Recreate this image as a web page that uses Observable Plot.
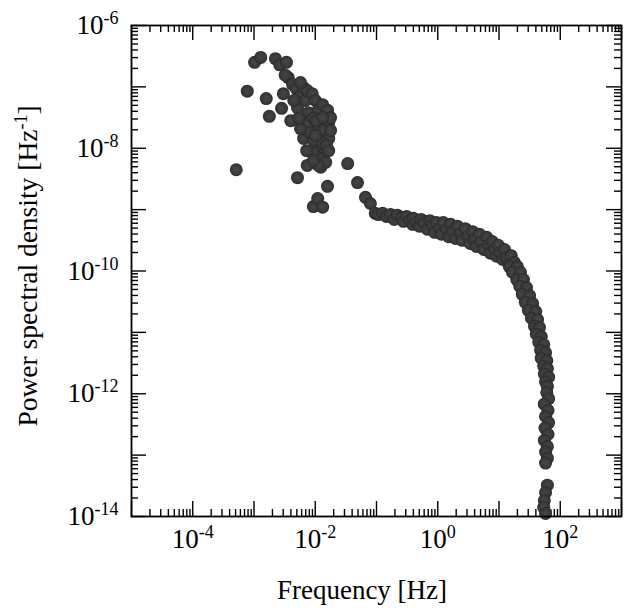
<!DOCTYPE html>
<html>
<head>
<meta charset="utf-8">
<script src="https://cdn.jsdelivr.net/npm/d3@7"></script>
<script src="https://cdn.jsdelivr.net/npm/@observablehq/plot@0.6"></script>
<style>
  html, body { margin: 0; padding: 0; background: #fff; }
</style>
</head>
<body>
<div id="chart"></div>
<script>
// ---- Data, stored as log10 exponents ----
// Low-frequency scattered estimates: log10(frequency / Hz) and log10(PSD / Hz^-1)
const scatterFreqExp = [
  -3.29,-3.11,-2.99,-2.89,-2.80,-2.75,-2.65,-2.58,-2.47,-2.55,
  -2.52,-2.44,-2.40,-2.37,-2.31,-2.29,-2.24,-2.19,-2.16,-2.13,
  -2.11,-2.05,-2.08,-2.00,-1.95,-1.88,-1.80,-1.78,-1.75,-2.13,
  -1.95,-1.87,-2.19,-2.03,-1.78,-1.75,-1.96,-1.83,-1.91,-1.91,
  -2.13,-2.29,-1.80,-2.03,-1.96,-1.88,-1.47,-1.31,-2.03,-1.88,
  -2.08,-1.83,-1.18,-1.10,-1.02,
  -2.00,-1.82,-2.04,-1.78,-2.14,-2.24,-2.35,-2.27,-1.98,-1.88,
  -1.95,-2.03,-2.49,-2.24
];
const scatterPsdExp = [
  -8.35,-7.07,-6.60,-6.52,-7.19,-7.48,-6.54,-6.64,-6.60,-7.35,
  -7.11,-6.85,-7.55,-6.96,-7.03,-7.34,-7.14,-7.01,-7.22,-7.06,
  -7.42,-7.11,-7.55,-7.22,-7.38,-7.29,-7.38,-7.58,-7.50,-7.60,
  -7.66,-7.71,-7.84,-7.87,-7.84,-7.71,-8.04,-8.04,-8.17,-8.31,
  -8.28,-8.48,-8.62,-8.95,-8.82,-8.96,-8.25,-8.56,-7.51,-7.91,
  -7.74,-8.23,-8.80,-8.90,-9.06,
  -7.79,-7.95,-8.07,-8.04,-8.04,-7.68,-7.22,-7.51,-7.55,-7.50,
  -8.28,-8.20,-6.81,-6.93
];
// Plateau and roll-off: log10(frequency / Hz) and log10(PSD / Hz^-1)
const curveFreqExp = [
  -0.97,-0.90,-0.84,-0.77,-0.71,-0.66,-0.59,-0.56,-0.51,-0.46,-0.41,
  -0.40,-0.35,-0.30,-0.27,-0.22,-0.17,-0.13,-0.09,-0.05,-0.02,0.03,0.06,0.09,0.14,0.18,0.21,0.24,0.29,
  0.32,0.37,0.40,0.45,0.49,0.53,0.57,0.60,0.63,0.68,0.71,0.75,0.80,0.83,0.86,0.89,0.93,0.96,0.99,1.02,1.06,1.09,1.12,1.16,
  1.20,1.25,1.17,1.30,1.22,1.35,1.29,1.40,1.34,1.45,1.38,1.50,1.43,1.55,1.48,1.60,1.53,1.63,1.58,1.66,1.61,1.69,1.65,1.73,1.68,1.76,1.69,1.78,1.73,1.79,1.74,1.81,1.76,1.79,
  1.78,1.81,1.74,1.80,1.76,1.81,1.75,1.80,1.74,1.79,1.76,1.79,1.76,
  1.79,1.76,1.74,1.73,1.76
];
const curvePsdExp = [
  -9.08,-9.06,-9.11,-9.08,-9.16,-9.09,-9.13,-9.19,-9.11,-9.18,-9.24,
  -9.14,-9.21,-9.27,-9.16,-9.22,-9.32,-9.18,-9.26,-9.37,-9.21,-9.31,-9.40,-9.21,-9.32,-9.44,-9.24,-9.36,-9.47,
  -9.27,-9.39,-9.50,-9.31,-9.44,-9.55,-9.36,-9.49,-9.60,-9.40,-9.53,-9.65,-9.45,-9.58,-9.71,-9.52,-9.65,-9.76,-9.58,-9.70,-9.81,-9.65,-9.78,-9.89,
  -9.75,-9.86,-9.93,-9.93,-10.02,-10.02,-10.14,-10.14,-10.25,-10.27,-10.38,-10.40,-10.51,-10.53,-10.64,-10.66,-10.77,-10.79,-10.90,-10.92,-11.03,-11.07,-11.16,-11.20,-11.29,-11.33,-11.42,-11.46,-11.55,-11.59,-11.68,-11.73,-11.81,-11.88,
  -11.98,-12.08,-12.17,-12.27,-12.37,-12.47,-12.56,-12.66,-12.76,-12.86,-12.95,-13.05,-13.13,
  -13.49,-13.61,-13.74,-13.85,-13.95
];

// Axis ticks
const xDecadeExp = [-5,-4,-3,-2,-1,0,1,2,3];
const yDecadeExp = [-14,-13,-12,-11,-10,-9,-8,-7,-6];
const xLabelExp = [-4,-2,0,2];
const yLabelExp = [-14,-12,-10,-8,-6];
const minorMultipliers = [2,3,4,5,6,7,8,9];

// ---- Build tables ----
const points = [
  ...scatterFreqExp.map((e, i) => ({f: 10 ** e, p: 10 ** scatterPsdExp[i]})),
  ...curveFreqExp.map((e, i) => ({f: 10 ** e, p: 10 ** curvePsdExp[i]}))
];
const xMajor = xDecadeExp.map(e => 10 ** e);
const yMajor = yDecadeExp.map(e => 10 ** e);
const xMinor = xDecadeExp.slice(0, -1).flatMap(e => minorMultipliers.map(k => k * 10 ** e));
const yMinor = yDecadeExp.slice(0, -1).flatMap(e => minorMultipliers.map(k => k * 10 ** e));
const xLabels = xLabelExp.map(e => 10 ** e);
const yLabels = yLabelExp.map(e => 10 ** e);

// ---- Layout ----
const W = 630, H = 611;
const mL = 131, mR = 9, mT = 25, mB = 95;
const fw = W - mL - mR, fh = H - mT - mB;
const majorLen = 15, minorLen = 7;
const tickStyle = {stroke: "#000", strokeWidth: 1.4};
const fmt = d => `10^${Math.round(Math.log10(d))}`;
const FONT = "'Liberation Serif', 'Times New Roman', 'DejaVu Serif', serif";

const chart = Plot.plot({
  width: W,
  height: H,
  marginLeft: mL,
  marginRight: mR,
  marginTop: mT,
  marginBottom: mB,
  style: {fontFamily: FONT, fontSize: "27px", color: "#000", background: "#fff"},
  x: {type: "log", domain: [1e-5, 1e3]},
  y: {type: "log", domain: [1e-14, 1e-6]},
  marks: [
    // inward ticks, bottom & top
    Plot.ruleX(xMajor, {...tickStyle, insetTop: fh - majorLen}),
    Plot.ruleX(xMinor, {...tickStyle, insetTop: fh - minorLen}),
    Plot.ruleX(xMajor, {...tickStyle, insetBottom: fh - majorLen}),
    Plot.ruleX(xMinor, {...tickStyle, insetBottom: fh - minorLen}),
    // inward ticks, left & right
    Plot.ruleY(yMajor, {...tickStyle, insetRight: fw - majorLen}),
    Plot.ruleY(yMinor, {...tickStyle, insetRight: fw - minorLen}),
    Plot.ruleY(yMajor, {...tickStyle, insetLeft: fw - majorLen}),
    Plot.ruleY(yMinor, {...tickStyle, insetLeft: fw - minorLen}),
    // tick labels
    Plot.axisX(xLabels, {anchor: "bottom", tickSize: 0, tickPadding: 12, tickFormat: fmt, label: null}),
    Plot.axisY(yLabels, {anchor: "left", tickSize: 0, tickPadding: 13, tickFormat: fmt, label: null}),
    // data
    Plot.dot(points, {x: "f", y: "p", r: 6.5, fill: "url(#dotShade)"}),
    Plot.frame({stroke: "#000", strokeWidth: 1.8})
  ]
});

document.getElementById("chart").appendChild(chart);

const svg = d3.select(chart);

// subtle shading for the dots (slightly darker rim)
const grad = svg.insert("defs", ":first-child")
  .append("radialGradient").attr("id", "dotShade");
grad.append("stop").attr("offset", "0%").attr("stop-color", "#474747");
grad.append("stop").attr("offset", "75%").attr("stop-color", "#393939");
grad.append("stop").attr("offset", "100%").attr("stop-color", "#282828");

// superscript exponents in tick labels
svg.selectAll('g[aria-label="x-axis tick label"] text, g[aria-label="y-axis tick label"] text').each(function () {
  const [base, exp] = this.textContent.split("^");
  const t = d3.select(this);
  t.text(null);
  t.append("tspan").text(base);
  t.append("tspan").attr("font-size", 18).attr("dy", -10).text(exp);
});

// axis titles
svg.append("text")
  .attr("x", 362).attr("y", 599)
  .attr("text-anchor", "middle")
  .attr("font-size", 27)
  .attr("fill", "#000")
  .text("Frequency [Hz]");

const yt = svg.append("text")
  .attr("transform", "translate(37,266) rotate(-90)")
  .attr("text-anchor", "middle")
  .attr("font-size", 27.5)
  .attr("fill", "#000");
yt.append("tspan").text("Power spectral density [Hz");
yt.append("tspan").attr("font-size", 18).attr("dy", -10).text("-1");
yt.append("tspan").attr("dy", 10).text("]");
</script>
</body>
</html>
